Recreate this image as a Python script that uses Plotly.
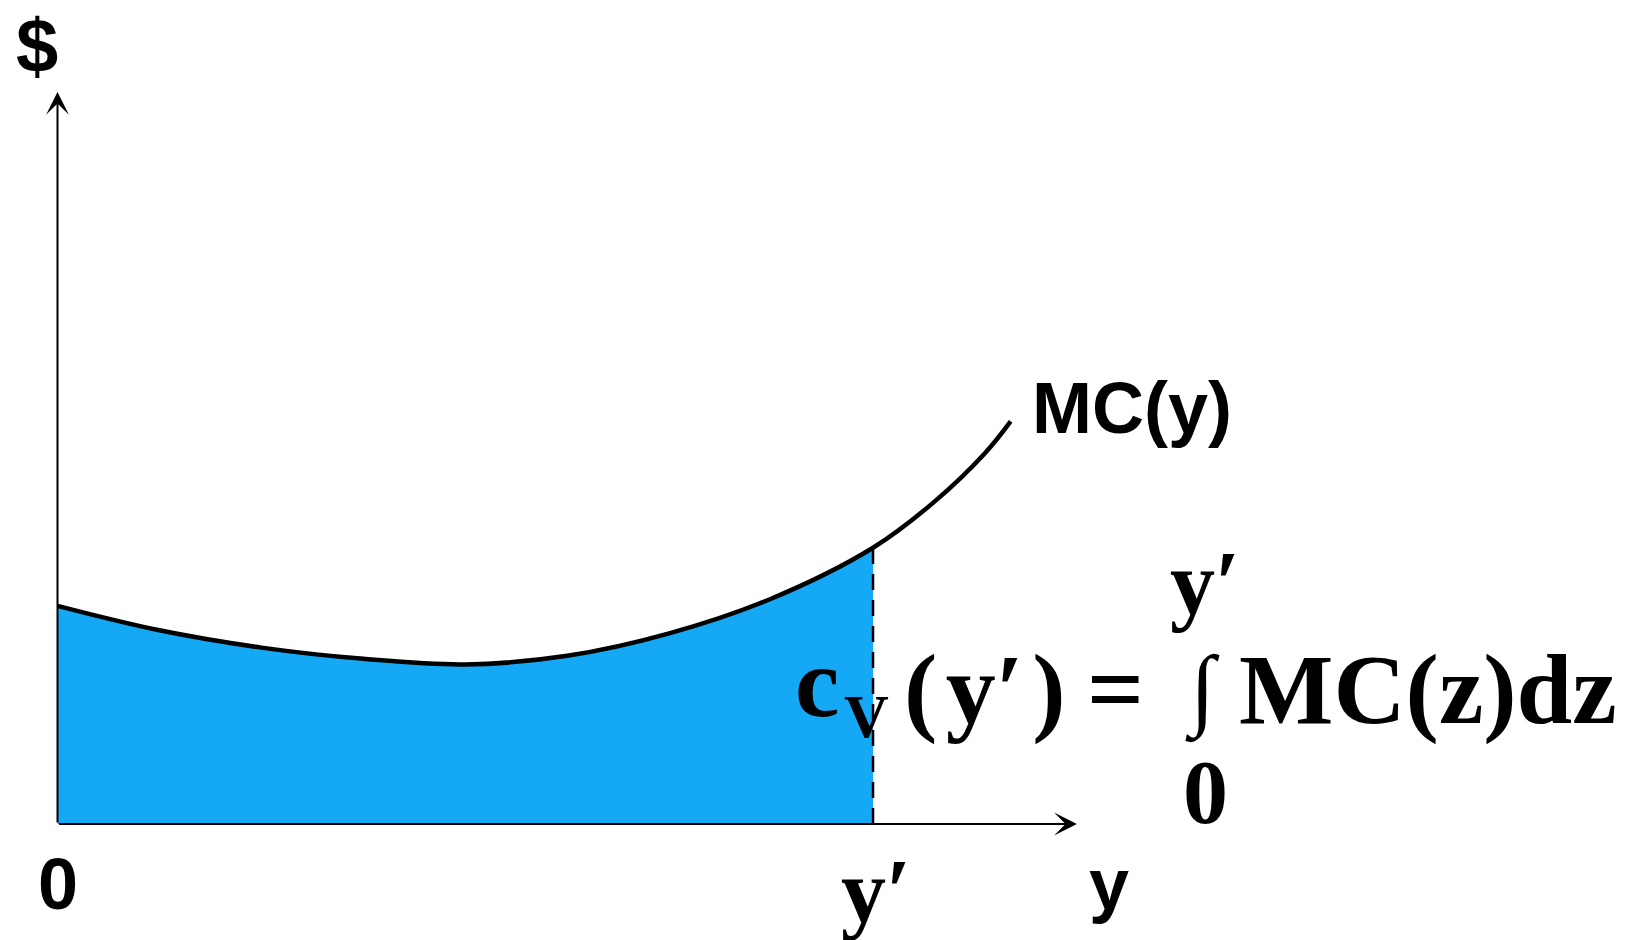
import plotly.graph_objects as go

# ---- data (output units) ----
mc_x = [0.0, 1.0, 2.0, 3.0, 4.0, 5.0, 6.0, 7.0, 8.0, 8.6, 9.1, 9.35]
mc_y = [2.14, 1.90, 1.73, 1.62, 1.565, 1.65, 1.87, 2.21, 2.71, 3.16, 3.64, 3.95]
y_prime = 8.0
x_axis_end = 10.0
y_axis_end = 7.18

fill_x = [x for x in mc_x if x <= y_prime]
fill_y = mc_y[:len(fill_x)]

SCALE = 101.94  # px per unit
X0_PX, Y0_PX = 57.5, 824.0
W, H = 1640, 940

def ux(px):
    return (px - X0_PX) / SCALE

def uy(py):
    return (Y0_PX - py) / SCALE

fig = go.Figure()
fig.add_trace(go.Scatter(x=fill_x, y=fill_y, mode="lines", line=dict(color="#15A9F5", width=0, shape="spline"),
                         fill="tozeroy", fillcolor="#15A9F5", hoverinfo="skip"))
fig.add_trace(go.Scatter(x=mc_x, y=mc_y, mode="lines", line=dict(color="black", width=4.5, shape="spline"),
                         hoverinfo="skip"))
# dashed line at y'
fig.add_trace(go.Scatter(x=[y_prime, y_prime], y=[0, mc_y[mc_x.index(y_prime)]], mode="lines",
                         line=dict(color="black", width=2.5, dash="16px,10px"), hoverinfo="skip"))

ann = []
# axes arrows
ann.append(dict(x=x_axis_end, y=0, ax=0, ay=0, xref="x", yref="y", axref="x", ayref="y", text="",
                showarrow=True, arrowhead=3, arrowsize=1.9, arrowwidth=2, arrowcolor="black"))
ann.append(dict(x=0, y=y_axis_end, ax=0, ay=0, xref="x", yref="y", axref="x", ayref="y", text="",
                showarrow=True, arrowhead=3, arrowsize=1.9, arrowwidth=2, arrowcolor="black"))

sans = "Liberation Sans, Arial, sans-serif"
serif = "Liberation Serif, Times New Roman, serif"

def txt(t, px, py, size, fam, xa="center", ya="middle"):
    ann.append(dict(x=ux(px), y=uy(py), xref="x", yref="y", text=t, showarrow=False,
                    xanchor=xa, yanchor=ya, font=dict(family=fam, size=size, color="black")))

txt("<b>$</b>", 37, 45, 76, sans)
txt("<b>0</b>", 57.5, 884, 72, sans)
txt("<b>y</b>", 1109, 884, 72, sans)
txt("<b>MC(y)</b>", 1030, 408, 72, sans, xa="left")
txt("<b>y′</b>", 876, 891, 90, serif)

# formula
txt("<b>c</b>", 817, 682, 100, serif)
txt("<b>V</b>", 866, 716, 62, serif)
txt("<b>(\u200ay′\u200a)</b>", 984, 689, 100, serif)
txt("<b>=</b>", 1115, 689, 100, serif)
txt("<b>∫</b>", 1202, 690, 90, serif)
txt("<b>y′</b>", 1205, 583, 90, serif)
txt("<b>0</b>", 1205, 792, 90, serif)
txt("<b>MC(z)dz</b>", 1237, 689, 100, serif, xa="left")

fig.update_layout(
    width=W, height=H, autosize=False,
    margin=dict(l=0, r=0, t=0, b=0),
    paper_bgcolor="white", plot_bgcolor="white",
    showlegend=False,
    xaxis=dict(range=[ux(0), ux(W)], visible=False, fixedrange=True),
    yaxis=dict(range=[uy(H), uy(0)], visible=False, fixedrange=True),
    annotations=ann,
)
fig.write_html("out.html", config={"displayModeBar": False},
               post_script="document.body.style.margin='0';document.body.style.overflow='hidden';")
